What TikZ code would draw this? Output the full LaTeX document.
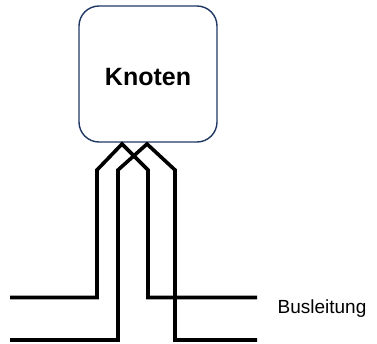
\documentclass[tikz,border=0pt]{standalone}
\usepackage{fontspec}
\setmainfont{Liberation Sans}
\definecolor{boxline}{HTML}{1F3864}
\begin{document}
\begin{tikzpicture}[x=1pt,y=-1pt,
  wire/.style={line width=3.6pt,black,line join=miter},
  knot/.style={draw=boxline,line width=1.4pt,fill=white,rounded corners=20pt,minimum width=138pt,minimum height=136pt,inner sep=0pt},
  lbl/.style={inner sep=0pt}]
\useasboundingbox (0,0) rectangle (377,343);
\node[knot] (k) at (148,74) {};
\node[lbl,font=\bfseries\fontsize{25}{30}\selectfont] (kt) at (148,77) {Knoten};
\coordinate (p1) at (122,144);
\coordinate (p2) at (147,144);
\draw[wire] (10,297.5) -- (97,297.5) -- (97,170) -- (p1) -- (148,170) -- (148,297.5) -- (257,297.5);
\draw[wire] (10,340) -- (118,340) -- (118,170) -- (p2) -- (175,170) -- (175,340) -- (257,340);
\node[lbl,font=\fontsize{19}{23}\selectfont] (bus) at (322,309) {Busleitung};
\end{tikzpicture}
\end{document}
